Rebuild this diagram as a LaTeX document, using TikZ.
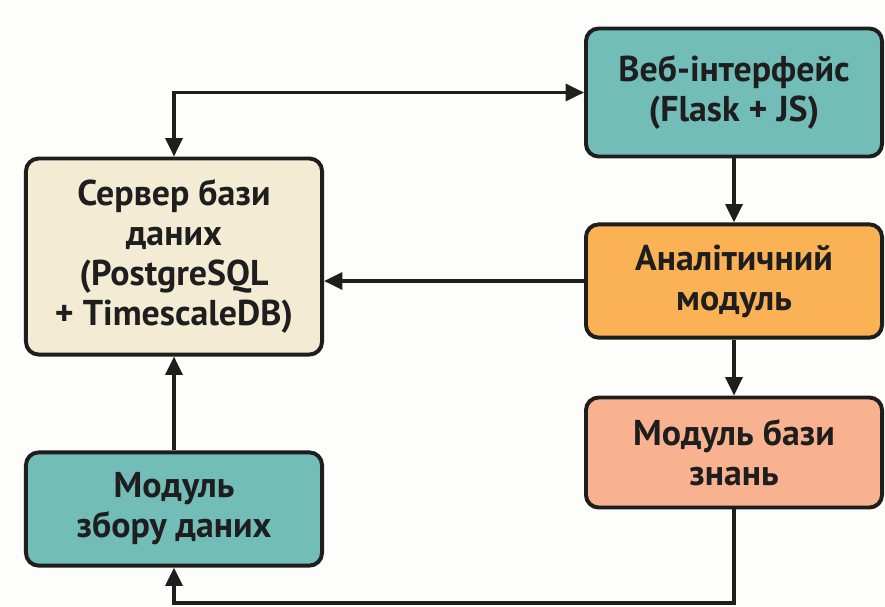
\documentclass[tikz,border=0pt]{standalone}
\usepackage{fontspec}
\setmainfont{PT Sans}
\usepackage{tikz}
\usetikzlibrary{calc,arrows.meta}

\definecolor{bgwhite}{HTML}{FDFDFB}
\definecolor{tealbox}{HTML}{72BDB8}
\definecolor{creambox}{HTML}{F3EBD3}
\definecolor{orangebox}{HTML}{FBB254}
\definecolor{salmonbox}{HTML}{F9B28F}
\definecolor{edgeblack}{HTML}{1E1E1E}

\begin{document}
\begin{tikzpicture}[x=0.025cm, y=-0.025cm]

        % Style of the boxes and of the arrows between them
        \tikzset{
            block/.style={draw=edgeblack, line width=2.8pt, rounded corners=9pt,
                align=center, inner sep=0pt, text=edgeblack,
                font=\fontsize{25.5}{28.5}\selectfont\bfseries},
            flow/.style={draw=edgeblack, line width=2.4pt,
                -{Triangle[length=13pt, width=12pt]}}
        }

        % Page size, the same as the reference
        \path[fill=bgwhite, use as bounding box] (0, 0) rectangle (885, 606);

        % Boxes of the left column
        \begin{scope}
            \node[block, fill=creambox, minimum width=7.4cm, minimum height=4.9cm]
                (srv) at (174, 256.5) {Сервер бази\\даних\\(PostgreSQL\\+ TimescaleDB)};
            \node[block, fill=tealbox, minimum width=7.4cm, minimum height=2.83cm]
                (col) at (174, 509) {Модуль\\збору даних};
        \end{scope}

        % Boxes of the right column
        \begin{scope}
            \node[block, fill=tealbox, minimum width=7.4cm, minimum height=3.2cm]
                (web) at (734, 92.5) {Веб-інтерфейс\\(Flask + JS)};
            \node[block, fill=orangebox, minimum width=7.4cm, minimum height=2.83cm]
                (ana) at (734, 281) {Аналітичний\\модуль};
            \node[block, fill=salmonbox, minimum width=7.4cm, minimum height=2.75cm]
                (kno) at (734, 452.5) {Модуль бази\\знань};
        \end{scope}

        % Corner of the return line under the picture
        \coordinate (back) at (0, 603);

        \begin{scope}[flow]
            \draw[{Triangle[length=13pt, width=12pt]}-{Triangle[length=13pt, width=12pt]}]
                (srv.north) |- (web.west);
            \draw (web.south) -- (ana.north);
            \draw (ana.west) -- (ana.west -| srv.east);
            \draw (ana.south) -- (kno.north);
            \draw (col.north) -- (srv.south);
            \draw (kno.south) -- (kno.south |- back) -| (col.south);
        \end{scope}

\end{tikzpicture}
\end{document}
